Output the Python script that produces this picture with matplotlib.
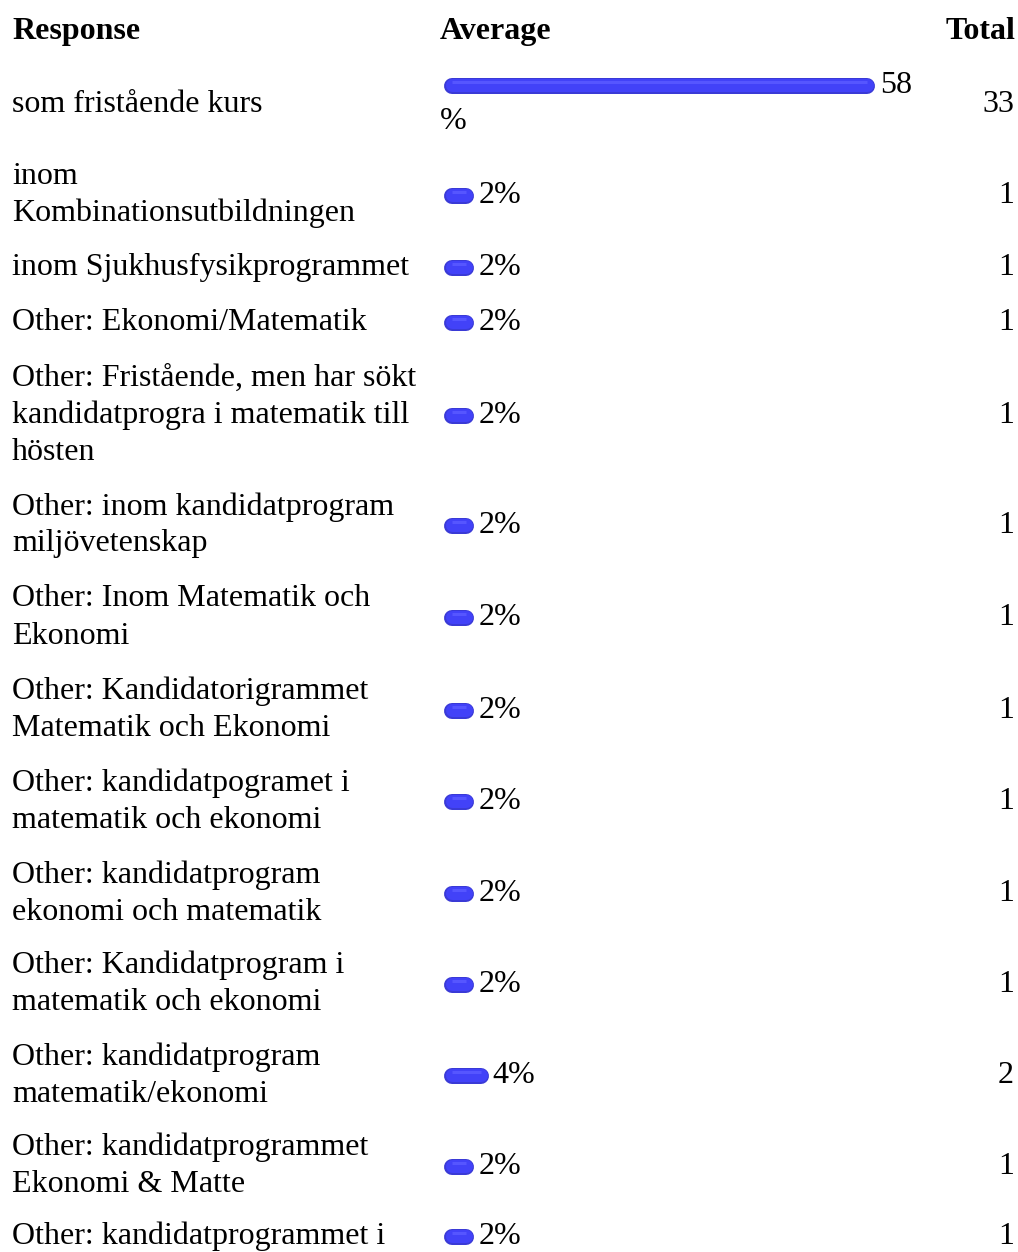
import matplotlib
matplotlib.use("Agg")
import matplotlib.pyplot as plt

# ---------------- data ----------------
responses = [
    "som fristående kurs",
    "inom\nKombinationsutbildningen",
    "inom Sjukhusfysikprogrammet",
    "Other: Ekonomi/Matematik",
    "Other: Fristående, men har sökt\nkandidatprogra i matematik till\nhösten",
    "Other: inom kandidatprogram\nmiljövetenskap",
    "Other: Inom Matematik och\nEkonomi",
    "Other: Kandidatorigrammet\nMatematik och Ekonomi",
    "Other: kandidatpogramet i\nmatematik och ekonomi",
    "Other: kandidatprogram\nekonomi och matematik",
    "Other: Kandidatprogram i\nmatematik och ekonomi",
    "Other: kandidatprogram\nmatematik/ekonomi",
    "Other: kandidatprogrammet\nEkonomi & Matte",
    "Other: kandidatprogrammet i",
]
percents = [58, 2, 2, 2, 2, 2, 2, 2, 2, 2, 2, 4, 2, 2]
totals = [33, 1, 1, 1, 1, 1, 1, 1, 1, 1, 1, 2, 1, 1]
headers = ["Response", "Average", "Total"]

# ---------------- layout (pixels) ----------------
W, H = 1018, 1252
row_centers = [104, 195, 267, 322, 415, 525, 617, 710, 801, 893, 984, 1075, 1166, 1236]
bar_offset_first = -19
line_h = 37
base_off = 8
FONT = "Liberation Serif"
FS = 23
bar_px_per_pct = 7.15
bar_x0 = 452
bar_lw_px = 16

fig = plt.figure(figsize=(W / 100, H / 100), dpi=100)
fig.patch.set_facecolor("white")
ax = fig.add_axes([0, 0, 1, 1])
ax.set_xlim(0, W)
ax.set_ylim(H, 0)
ax.axis("off")

span_pct = 70
ax_bar = fig.add_axes([bar_x0 / W, 0, span_pct * bar_px_per_pct / W, 1])
ax_bar.set_xlim(0, span_pct)
ax_bar.set_ylim(H, 0)
ax_bar.axis("off")

txt = dict(family=FONT, fontsize=FS, color="black")

ax.text(12, 39, headers[0], ha="left", va="baseline", fontweight="bold", **txt)
ax.text(440, 39, headers[1], ha="left", va="baseline", fontweight="bold", **txt)
ax.text(1015, 39, headers[2], ha="right", va="baseline", fontweight="bold", **txt)

pt = 72 / 100.0
for i, (lab, p, tot) in enumerate(zip(responses, percents, totals)):
    c = row_centers[i]
    lines = lab.split("\n")
    n = len(lines)
    for j, ln in enumerate(lines):
        y = c + base_off + (j - (n - 1) / 2) * line_h
        ax.text(12, y, ln, ha="left", va="baseline", **txt)
    ax.text(1014, c + base_off, str(tot), ha="right", va="baseline", **txt)

    wrap = p >= 50
    by = c + bar_offset_first if wrap else c
    # outer darker edge
    ax_bar.hlines(by + 0.5, 0, p, colors="#3A3AD6", linewidth=bar_lw_px * pt,
                  capstyle="round", clip_on=False, zorder=2)
    # main body
    ax_bar.hlines(by - 0.5, 0, p, colors="#4242F8", linewidth=(bar_lw_px - 3) * pt,
                  capstyle="round", clip_on=False, zorder=3)
    # soft top highlight
    ax_bar.hlines(by - 3.5, 0, p, colors="#5656FF", linewidth=3 * pt,
                  capstyle="butt", clip_on=False, zorder=4)

    if wrap:
        ax_bar.annotate(f"{p}", xy=(p, by + base_off), xytext=(bar_lw_px / 2 + 5, 0),
                        textcoords="offset pixels", ha="left", va="baseline", **txt)
        ax.text(440, by + base_off + 36, "%", ha="left", va="baseline", **txt)
    else:
        ax_bar.annotate(f"{p}%", xy=(p, by + base_off), xytext=(bar_lw_px / 2 + 4, 0),
                        textcoords="offset pixels", ha="left", va="baseline", **txt)

fig.savefig("out.png", dpi=100, facecolor="white")
